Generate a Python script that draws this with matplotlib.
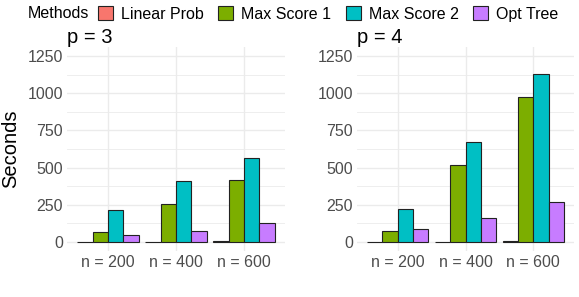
import matplotlib
matplotlib.use("Agg")
import matplotlib.pyplot as plt
import numpy as np
from matplotlib.patches import Patch
from matplotlib.ticker import MultipleLocator

plt.rcParams['font.family'] = ['Liberation Sans', 'DejaVu Sans']

categories = ["n = 200", "n = 400", "n = 600"]
methods = ["Linear Prob", "Max Score 1", "Max Score 2", "Opt Tree"]
colors = ["#F8766D", "#7CAE00", "#00BFC4", "#C77CFF"]
panels = ["p = 3", "p = 4"]

# values[panel][method] over categories
p3_linear = [2, 3, 8]
p3_ms1 = [65, 258, 417]
p3_ms2 = [217, 407, 567]
p3_opt = [48, 71, 127]

p4_linear = [2, 3, 8]
p4_ms1 = [73, 520, 977]
p4_ms2 = [223, 670, 1126]
p4_opt = [89, 163, 266]

data = [[p3_linear, p3_ms1, p3_ms2, p3_opt],
        [p4_linear, p4_ms1, p4_ms2, p4_opt]]

yticks = [0, 250, 500, 750, 1000, 1250]

fig = plt.figure(figsize=(5.79, 2.97), dpi=100)
W, H = 579, 297
axpos = [(67, 46.7, 218, 204.6), (357, 46.7, 217, 204.6)]
grid_c = "#EBEBEB"
tick_c = "#4D4D4D"

x = np.arange(len(categories))
bw = 0.9 / len(methods)
for pi, (l, t, w, h) in enumerate(axpos):
    ax = fig.add_axes([l / W, 1 - (t + h) / H, w / W, h / H])
    for mi, vals in enumerate(data[pi]):
        ax.bar(x - 0.45 + bw * (mi + 0.5), vals, width=bw, color=colors[mi],
               edgecolor="#222222", linewidth=0.8, zorder=3)
    ax.set_xlim(-0.6, len(categories) - 0.4)
    ax.set_ylim(-62.5, 1312.5)
    ax.set_xticks(x)
    ax.set_xticklabels(categories)
    ax.set_yticks(yticks)
    ax.set_yticklabels([str(v) for v in yticks])
    ax.yaxis.set_minor_locator(MultipleLocator(125))
    ax.grid(True, which="major", color=grid_c, linewidth=1.0, zorder=0)
    ax.grid(True, which="minor", axis="y", color=grid_c, linewidth=0.6, zorder=0)
    ax.tick_params(which="both", length=0, labelsize=11.5, colors=tick_c, pad=3)
    for s in ax.spines.values():
        s.set_visible(False)
    ax.set_title(panels[pi], loc="left", fontsize=14.5, pad=2, x=0)
    if pi == 0:
        ax.set_ylabel("Seconds", fontsize=14.5, labelpad=5)

fig.text(28 / W, 1 - 14 / H, "Methods", fontsize=11.5, va="center", ha="left")
handles = [Patch(facecolor=c, edgecolor="#222222", linewidth=0.8) for c in colors]
fig.legend(handles, methods, ncol=4, loc="center left",
           bbox_to_anchor=(98 / W, 1 - 14 / H), frameon=False, fontsize=11.5,
           handlelength=0.95, handleheight=0.95, handletextpad=0.5,
           columnspacing=0.9, borderpad=0, borderaxespad=0)

fig.savefig("out.png", dpi=100)
